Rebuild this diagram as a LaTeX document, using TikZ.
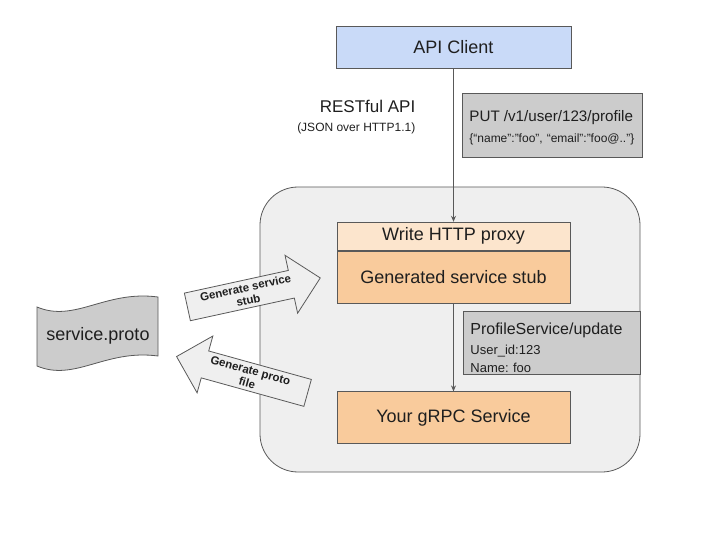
\documentclass[tikz,border=0pt]{standalone}
\usepackage{fontspec}
\setmainfont{Liberation Sans}
\usetikzlibrary{arrows.meta,positioning,shapes.arrows}
\definecolor{clientblue}{HTML}{C9DAF8}
\definecolor{proxytan}{HTML}{FCE5CD}
\definecolor{stuborange}{HTML}{F9CB9C}
\definecolor{notegray}{HTML}{CCCCCC}
\definecolor{panelgray}{HTML}{EFEFEF}
\definecolor{edgegray}{HTML}{595959}
\definecolor{inkgray}{HTML}{1F1F1F}
\frenchspacing

\begin{document}
\begin{tikzpicture}[
    x=1pt, y=-1pt, line width=0.8pt, text=inkgray,
    box/.style={rectangle, draw=edgegray, align=center, minimum width=233pt,
                inner sep=0pt, font=\fontsize{18}{21}\selectfont},
    note/.style={rectangle, draw=edgegray, fill=notegray, align=left, anchor=north west,
                 inner xsep=7pt, inner ysep=0pt},
    genarrow/.style={single arrow, draw=edgegray, fill=panelgray, single arrow head extend=15.5pt,
                     minimum height=136pt, inner xsep=2pt, inner ysep=3pt, align=center,
                     font=\fontsize{11.5}{13}\selectfont\bfseries},
    flow/.style={-{Stealth[length=6pt,width=5pt]}, draw=edgegray}
]
\useasboundingbox (0,0) rectangle (702,540);
\node[rectangle, draw=edgegray, fill=panelgray, rounded corners=38pt,
      minimum width=380pt, minimum height=285pt] (core) at (450,329.5) {};

\node[box, fill=stuborange, minimum height=52pt] (stub) at (453.5,277) {Generated service stub};
\node[box, fill=proxytan, minimum height=28pt, above=0pt of stub] (proxy) {Write HTTP proxy};
\node[box, fill=clientblue, minimum height=42pt, minimum width=235pt, above=153pt of proxy] (client) {API Client};
\node[box, fill=stuborange, minimum height=52pt, below=88pt of stub] (grpc) {Your gRPC Service};

\node[anchor=east, align=right, font=\fontsize{17}{19}\selectfont] (rest) at (419,117)
     {RESTful API\\{\fontsize{12}{19}\selectfont (JSON over HTTP1.1)}};
\node[note, text width=166pt, minimum height=64pt, font=\fontsize{12}{21}\selectfont] (put) at (462,93)
     {{\fontsize{15.2}{21}\selectfont\rule{0pt}{15pt}PUT /v1/user/123/profile}\\
      \mbox{\{“name”:”foo”, “email”:”foo@..”\}}};
\node[note, text width=163pt, minimum height=63pt, font=\fontsize{13}{18}\selectfont] (update) at (463,311)
     {{\fontsize{16}{18}\selectfont\rule{0pt}{21pt}ProfileService/update}\\[2pt]
      User\_id:123\\Name: foo};

\draw[flow] (client.south) -- (client.south |- proxy.north);
\draw[flow] (stub) -- (grpc);

\draw[draw=edgegray, fill=notegray]
     (37,307) .. controls (75,323) and (105,290) .. (158,297)
     -- (158,356) .. controls (105,349) and (75,382) .. (37,366) -- cycle;
\node[font=\fontsize{18}{21}\selectfont] (proto) at (98,336) {service.proto};

\node[genarrow, rotate=12.3, anchor=tail] (stubgen) at (187,307) {Generate service\\stub};
\node[genarrow, shape border rotate=180, rotate=-15.5, anchor=tail] (protogen) at (308,393) {Generate proto\\file};
\end{tikzpicture}
\end{document}
